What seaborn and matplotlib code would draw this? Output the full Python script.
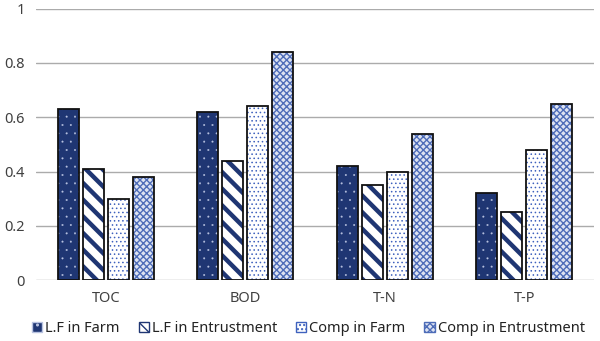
import matplotlib
matplotlib.use("Agg")
import matplotlib.pyplot as plt
import seaborn as sns
import pandas as pd
from matplotlib.patches import Patch

categories = ["TOC", "BOD", "T-N", "T-P"]
series = ["L.F in Farm", "L.F in Entrustment", "Comp in Farm", "Comp in Entrustment"]
lf_farm = [0.63, 0.62, 0.42, 0.32]
lf_entr = [0.41, 0.44, 0.35, 0.25]
comp_farm = [0.30, 0.64, 0.40, 0.48]
comp_entr = [0.38, 0.84, 0.54, 0.65]
yticks = [0, 0.2, 0.4, 0.6, 0.8, 1]
ytick_labels = ["0", "0.2", "0.4", "0.6", "0.8", "1"]

rows = []
for s, vals in zip(series, [lf_farm, lf_entr, comp_farm, comp_entr]):
    for c, v in zip(categories, vals):
        rows.append({"cat": c, "series": s, "value": v})
df = pd.DataFrame(rows)

sns.set_style("white")
plt.rcParams['font.family'] = ['Noto Sans', 'DejaVu Sans']
plt.rcParams['hatch.linewidth'] = 1.0

styles = {
    "L.F in Farm": dict(face="#1F3673", hatch="..", hcolor="#B8C2E0", hlw=0.2),
    "L.F in Entrustment": dict(face="white", hatch="\\\\", hcolor="#1F3673", hlw=3.2),
    "Comp in Farm": dict(face="white", hatch="....", hcolor="#3F62BE", hlw=0.6),
    "Comp in Entrustment": dict(face="#DDE3F2", hatch="xxxxx", hcolor="#4D6CB8", hlw=1.0),
}

fig = plt.figure(figsize=(6, 3.41), dpi=100)
ax = fig.add_axes([0.06, 0.178, 0.93, 0.797])

sns.barplot(data=df, x="cat", y="value", hue="series", order=categories,
            hue_order=series, width=0.72, gap=0.17, ax=ax, legend=False,
            palette=["white"] * 4, saturation=1)

n = len(categories)
for i, s in enumerate(series):
    st = styles[s]
    for p in ax.patches[i * n:(i + 1) * n]:
        p.set_facecolor(st["face"])
        p.set_hatch(st["hatch"])
        p.set_edgecolor(st["hcolor"])
        p.set_linewidth(0)
        if hasattr(p, "set_hatch_linewidth"):
            p.set_hatch_linewidth(st["hlw"])

sns.barplot(data=df, x="cat", y="value", hue="series", order=categories,
            hue_order=series, width=0.72, gap=0.17, ax=ax, legend=False,
            fill=False, palette=["#111111"] * 4, linewidth=1.3)
for p in ax.patches[4 * n:]:
    p.set_edgecolor("#111111")
    p.set_facecolor("none")
    p.set_zorder(3)

ax.set_ylim(0, 1)
ax.set_xlim(-0.5, 3.5)
ax.set_yticks(yticks)
ax.set_yticklabels(ytick_labels)
ax.yaxis.grid(True, color="#ABABAB", linewidth=1)
ax.set_axisbelow(True)
for sp in ax.spines.values():
    sp.set_visible(False)
ax.tick_params(axis="both", length=0, labelsize=10.5, colors="#404040", pad=8)
ax.tick_params(axis="x", pad=8)
ax.set_xlabel("")
ax.set_ylabel("")

handles = []
for s in series:
    st = styles[s]
    h = Patch(facecolor=st["face"], hatch=st["hatch"], edgecolor=st["hcolor"], linewidth=1.0, label=s)
    if hasattr(h, "set_hatch_linewidth"):
        h.set_hatch_linewidth(st["hlw"])
    handles.append(h)
leg = fig.legend(handles=handles, loc="center", bbox_to_anchor=(0.514, 0.037), ncol=4,
                 frameon=False, fontsize=10.5, handlelength=0.7, handleheight=0.7,
                 handletextpad=0.2, columnspacing=1.3, labelcolor="#222222")

fig.savefig("out.png", dpi=100)
